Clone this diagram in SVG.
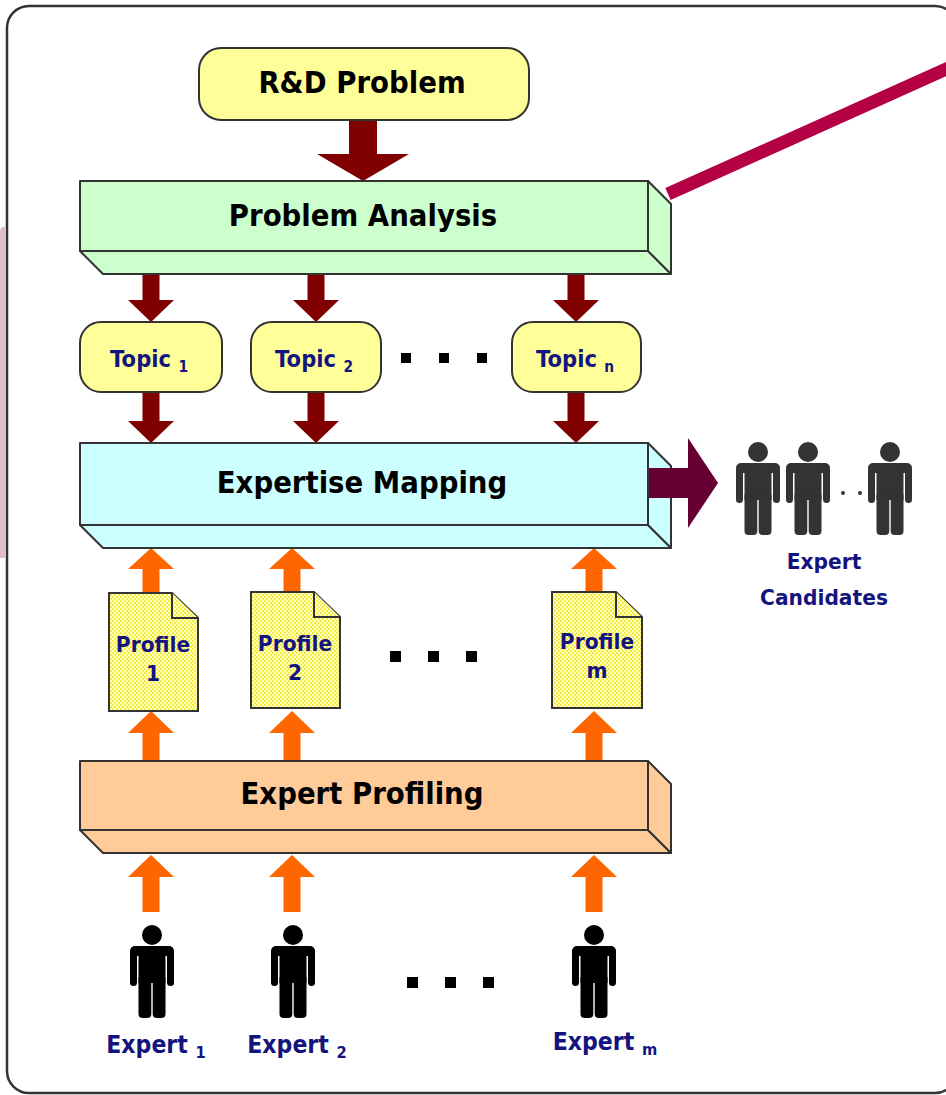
<svg xmlns="http://www.w3.org/2000/svg" width="946" height="1095" viewBox="0 0 946 1095">
<style>
.box{stroke:#333;stroke-width:2;stroke-linejoin:round}
.title{font-family:"DejaVu Sans","Liberation Sans",sans-serif;font-weight:bold;font-size:30px;fill:#000;text-anchor:middle}
.lbl{font-family:"DejaVu Sans","Liberation Sans",sans-serif;font-weight:bold;fill:#14147f;text-anchor:middle}
.dr{fill:#800000}
.or{fill:#ff6600}
.dot{fill:#000}
.doc{fill:url(#dots);stroke:#333;stroke-width:2;stroke-linejoin:miter}
</style>
<defs>
<pattern id="dots" width="4" height="4" patternUnits="userSpaceOnUse">
<rect width="4" height="4" fill="#ffffc8"/>
<circle cx="1" cy="1" r="0.9" fill="#f2e400"/>
<circle cx="3" cy="3" r="0.9" fill="#f2e400"/>
</pattern>
<g id="person">
<circle cx="0" cy="0" r="10"/>
<rect x="-22" y="11" width="44" height="10" rx="5"/>
<rect x="-22" y="14" width="7" height="37" rx="3.5"/>
<rect x="15" y="14" width="7" height="37" rx="3.5"/>
<rect x="-13.5" y="14" width="27" height="34"/>
<rect x="-13.5" y="40" width="12.8" height="43" rx="4"/>
<rect x="0.7" y="40" width="12.8" height="43" rx="4"/>
</g>
</defs>

<rect width="946" height="1095" fill="#fff"/>
<path d="M0,232 Q0,226 5,227 V558 H0 Z" fill="#e0c0c4"/>
<rect x="7" y="6" width="950" height="1087" rx="22" fill="none" stroke="#333" stroke-width="2.5"/>

<g id="connectors">
<line x1="668" y1="194" x2="962" y2="62" stroke="#b40044" stroke-width="13"/>
<path class="dr" d="M349,120 H377 V154 H409 L363,181 L317,154 H349 Z"/>
<path class="dr" d="M142.5,274 H159.5 V300 H174 L151,322 L128,300 H142.5 Z"/>
<path class="dr" d="M307.5,274 H324.5 V300 H339 L316,322 L293,300 H307.5 Z"/>
<path class="dr" d="M567.5,274 H584.5 V300 H599 L576,322 L553,300 H567.5 Z"/>
<path class="dr" d="M142.5,392 H159.5 V421 H174 L151,443 L128,421 H142.5 Z"/>
<path class="dr" d="M307.5,392 H324.5 V421 H339 L316,443 L293,421 H307.5 Z"/>
<path class="dr" d="M567.5,392 H584.5 V421 H599 L576,443 L553,421 H567.5 Z"/>
<path class="or" d="M142.5,593 V569 H128 L151,548 L174,569 H159.5 V593 Z"/>
<path class="or" d="M283.5,592 V569 H269 L292,548 L315,569 H300.5 V592 Z"/>
<path class="or" d="M585.5,592 V569 H571 L594,548 L617,569 H602.5 V592 Z"/>
<path class="or" d="M142.5,762 V733 H128 L151,711 L174,733 H159.5 V762 Z"/>
<path class="or" d="M283.5,762 V733 H269 L292,711 L315,733 H300.5 V762 Z"/>
<path class="or" d="M585.5,762 V733 H571 L594,711 L617,733 H602.5 V762 Z"/>
<path class="or" d="M142.5,912 V877 H128 L151,855 L174,877 H159.5 V912 Z"/>
<path class="or" d="M283.5,912 V877 H269 L292,855 L315,877 H300.5 V912 Z"/>
<path class="or" d="M585.5,912 V877 H571 L594,855 L617,877 H602.5 V912 Z"/>
</g>

<g id="rd-problem">
<rect class="box" x="199" y="48" width="330" height="72" rx="22" fill="#ffff99"/>
<text class="title" transform="translate(362,93) scale(0.92,1)">R&amp;D Problem</text>
</g>

<g id="problem-analysis">
<rect class="box" x="80" y="181" width="568" height="70" fill="#ccffcc"/>
<polygon class="box" points="80,251 648,251 671,274 103,274" fill="#ccffcc"/>
<polygon class="box" points="648,181 671,204 671,274 648,251" fill="#ccffcc"/>
<text class="title" transform="translate(363,226) scale(0.92,1)">Problem Analysis</text>
</g>

<g id="topic-1">
<rect class="box" x="80" y="322" width="142" height="70" rx="21" fill="#ffff99"/>
<text class="lbl" font-size="23" transform="translate(149,367) scale(0.92,1)">Topic <tspan font-size="15" dy="5">1</tspan></text>
</g>
<g id="topic-2">
<rect class="box" x="251" y="322" width="130" height="70" rx="21" fill="#ffff99"/>
<text class="lbl" font-size="23" transform="translate(314,367) scale(0.92,1)">Topic <tspan font-size="15" dy="5">2</tspan></text>
</g>
<g id="topic-dots">
<rect class="dot" x="401" y="353" width="10" height="10"/>
<rect class="dot" x="439" y="353" width="10" height="10"/>
<rect class="dot" x="477" y="353" width="10" height="10"/>
</g>
<g id="topic-n">
<rect class="box" x="512" y="322" width="129" height="70" rx="21" fill="#ffff99"/>
<text class="lbl" font-size="23" transform="translate(575,367) scale(0.92,1)">Topic <tspan font-size="15" dy="5">n</tspan></text>
</g>

<g id="expertise-mapping">
<rect class="box" x="80" y="443" width="568" height="82" fill="#ccffff"/>
<polygon class="box" points="80,525 648,525 671,548 103,548" fill="#ccffff"/>
<polygon class="box" points="648,443 671,466 671,548 648,525" fill="#ccffff"/>
<text class="title" transform="translate(362,493) scale(0.92,1)">Expertise Mapping</text>
</g>
<g id="to-candidates">
<path d="M649,468 H688 V438 L718,483 L688,528 V498 H649 Z" fill="#660033"/>
</g>

<g id="expert-candidates" fill="#333">
<use href="#person" x="758" y="452"/>
<use href="#person" x="808" y="452"/>
<circle cx="843" cy="493" r="2"/>
<circle cx="860" cy="493" r="2"/>
<use href="#person" x="890" y="452"/>
<text class="lbl" font-size="22" transform="translate(824,569) scale(0.92,1)">Expert</text>
<text class="lbl" font-size="22" transform="translate(824,605) scale(0.92,1)">Candidates</text>
</g>

<g id="profile-1">
<path class="doc" d="M109,593 H172 L198,618 V711 H109 Z"/>
<path class="doc" d="M172,593 V618 H198" fill="none"/>
<text class="lbl" font-size="22" transform="translate(153,652) scale(0.92,1)">Profile</text>
<text class="lbl" font-size="22" transform="translate(153,681) scale(0.92,1)">1</text>
</g>
<g id="profile-2">
<path class="doc" d="M251,592 H314 L340,617 V708 H251 Z"/>
<path class="doc" d="M314,592 V617 H340" fill="none"/>
<text class="lbl" font-size="22" transform="translate(295,651) scale(0.92,1)">Profile</text>
<text class="lbl" font-size="22" transform="translate(295,680) scale(0.92,1)">2</text>
</g>
<g id="profile-dots">
<rect class="dot" x="390" y="651" width="11" height="11"/>
<rect class="dot" x="428" y="651" width="11" height="11"/>
<rect class="dot" x="466" y="651" width="11" height="11"/>
</g>
<g id="profile-m">
<path class="doc" d="M552,592 H616 L642,617 V708 H552 Z"/>
<path class="doc" d="M616,592 V617 H642" fill="none"/>
<text class="lbl" font-size="22" transform="translate(597,649) scale(0.92,1)">Profile</text>
<text class="lbl" font-size="22" transform="translate(597,678) scale(0.92,1)">m</text>
</g>

<g id="expert-profiling">
<rect class="box" x="80" y="761" width="568" height="69" fill="#ffcc99"/>
<polygon class="box" points="80,830 648,830 671,853 103,853" fill="#ffcc99"/>
<polygon class="box" points="648,761 671,784 671,853 648,830" fill="#ffcc99"/>
<text class="title" transform="translate(362,804) scale(0.92,1)">Expert Profiling</text>
</g>

<g id="expert-1">
<use href="#person" x="152" y="935" fill="#000"/>
<text class="lbl" font-size="24" transform="translate(156,1053) scale(0.92,1)">Expert <tspan font-size="16" dy="5">1</tspan></text>
</g>
<g id="expert-2">
<use href="#person" x="293" y="935" fill="#000"/>
<text class="lbl" font-size="24" transform="translate(297,1053) scale(0.92,1)">Expert <tspan font-size="16" dy="5">2</tspan></text>
</g>
<g id="expert-dots">
<rect class="dot" x="407" y="977" width="11" height="11"/>
<rect class="dot" x="445" y="977" width="11" height="11"/>
<rect class="dot" x="483" y="977" width="11" height="11"/>
</g>
<g id="expert-m">
<use href="#person" x="594" y="935" fill="#000"/>
<text class="lbl" font-size="24" transform="translate(605,1050) scale(0.92,1)">Expert <tspan font-size="16" dy="5">m</tspan></text>
</g>
</svg>
